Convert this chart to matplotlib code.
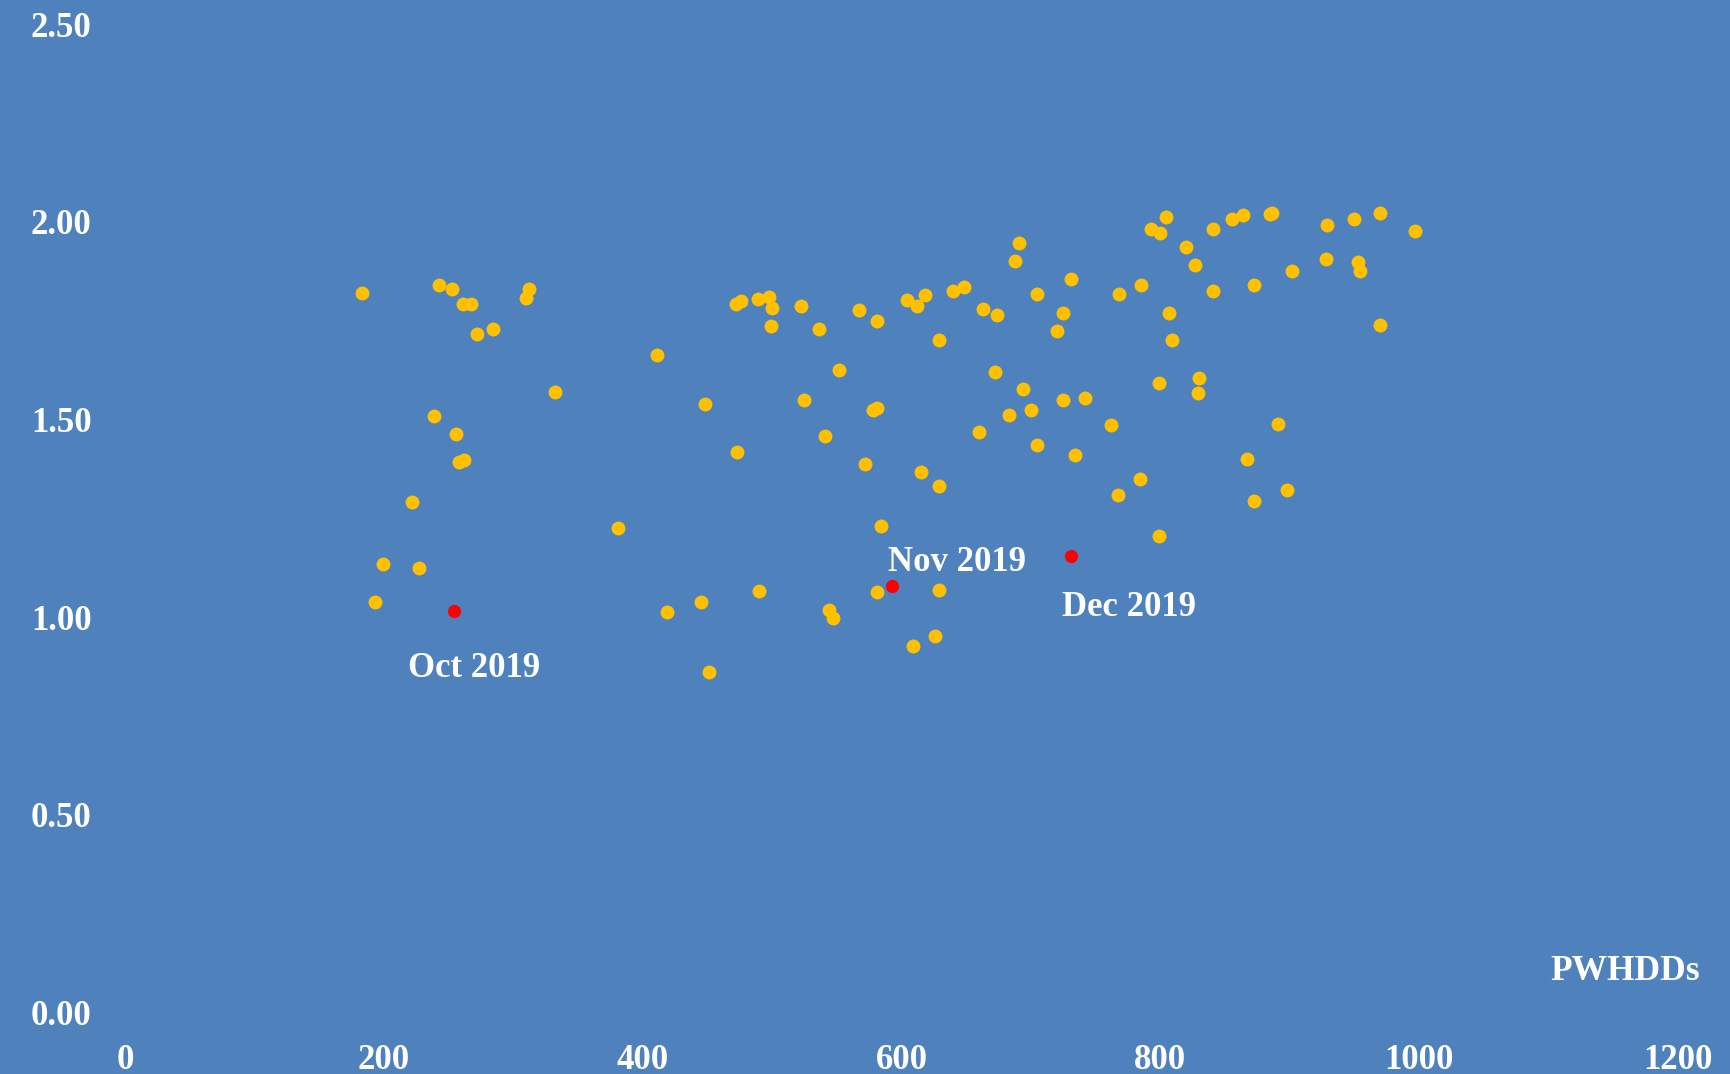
import matplotlib.pyplot as plt

# ===========================
# DATA
# ===========================
pwhdds = [
    183, 243, 253, 261, 267, 312, 310, 272, 284, 332, 239, 256,
    258, 262, 222, 199, 227, 193,
    411, 472, 476, 489, 498, 500, 499, 522, 536, 567, 581, 604, 612, 618,
    640, 648, 663, 674, 629, 688, 691, 552, 672, 448, 525, 578, 581, 683,
    660, 541,
    473, 572, 615, 629, 381, 584, 581, 629, 419, 445, 490, 544, 547, 626,
    609, 451,
    731, 705, 725, 720, 768, 785, 793, 800, 804, 820, 827, 841, 841, 855,
    864, 885, 886, 872, 902, 929, 928, 950, 953, 954, 970, 997, 970, 807,
    809, 694, 700, 725, 742, 762, 799, 830, 829, 891, 705,
    734, 784, 767, 799, 867, 898, 872,
]
values = [
    1.819, 1.840, 1.829, 1.793, 1.793, 1.830, 1.808, 1.717, 1.728, 1.570, 1.509, 1.464,
    1.393, 1.398, 1.292, 1.134, 1.124, 1.038,
    1.662, 1.793, 1.800, 1.804, 1.810, 1.783, 1.737, 1.788, 1.728, 1.778, 1.748, 1.803,
    1.787, 1.814, 1.825, 1.835, 1.779, 1.763, 1.702, 1.900, 1.946, 1.626, 1.621, 1.540,
    1.550, 1.524, 1.530, 1.510, 1.469, 1.458,
    1.418, 1.388, 1.368, 1.332, 1.226, 1.230, 1.063, 1.068, 1.013, 1.038, 1.065, 1.018,
    0.997, 0.952, 0.926, 0.860,
    1.855, 1.818, 1.768, 1.723, 1.818, 1.839, 1.982, 1.971, 2.012, 1.935, 1.890, 1.982,
    1.824, 2.007, 2.018, 2.019, 2.023, 1.839, 1.875, 1.992, 1.906, 2.007, 1.897, 1.875,
    2.022, 1.976, 1.738, 1.769, 1.702, 1.576, 1.525, 1.550, 1.555, 1.485, 1.591, 1.606,
    1.567, 1.489, 1.435,
    1.410, 1.349, 1.308, 1.205, 1.400, 1.322, 1.293,
]

months = ["Oct 2019", "Nov 2019", "Dec 2019"]
month_pwhdds = [254, 593, 731]
month_values = [1.015, 1.078, 1.154]
# label centres (data coords)
label_x = [270, 643, 776]
label_y = [0.869, 1.137, 1.024]

x_ticks = [0, 200, 400, 600, 800, 1000, 1200]
y_ticks = [0.0, 0.5, 1.0, 1.5, 2.0, 2.5]

BG = "#4F81BD"
FONT = "Liberation Serif"

# ===========================
# PLOT
# ===========================
fig = plt.figure(figsize=(17.31, 10.74), dpi=100, facecolor=BG)
ax = fig.add_axes([0.0722, 0.0575, 0.8972, 0.9200])
ax.set_facecolor(BG)

ax.scatter(pwhdds, values, s=100, color="#FFC000", linewidths=0, zorder=3)
ax.scatter(month_pwhdds, month_values, s=90, color="#FF0000", linewidths=0, zorder=4)

for name, lx, ly in zip(months, label_x, label_y):
    ax.text(lx, ly, name, ha="center", va="center", color="white",
            fontsize=25, fontweight="bold", family=FONT)

ax.set_xlim(0, 1200)
ax.set_ylim(0, 2.5)
ax.set_xticks(x_ticks)
ax.set_yticks(y_ticks)
ax.set_xticklabels([str(t) for t in x_ticks])
ax.set_yticklabels([f"{t:.2f}" for t in y_ticks])

for spine in ax.spines.values():
    spine.set_visible(False)

ax.tick_params(axis="x", length=0, pad=23, colors="white", labelsize=25)
ax.tick_params(axis="y", length=0, pad=24, colors="white", labelsize=25)
for lbl in ax.get_xticklabels() + ax.get_yticklabels():
    lbl.set_family(FONT)
    lbl.set_fontweight("bold")

fig.text(0.982, 0.0954, "PWHDDs", ha="right", va="center", color="white",
         fontsize=25.5, fontweight="bold", family=FONT)

fig.savefig("out.png", dpi=100, facecolor=BG)
